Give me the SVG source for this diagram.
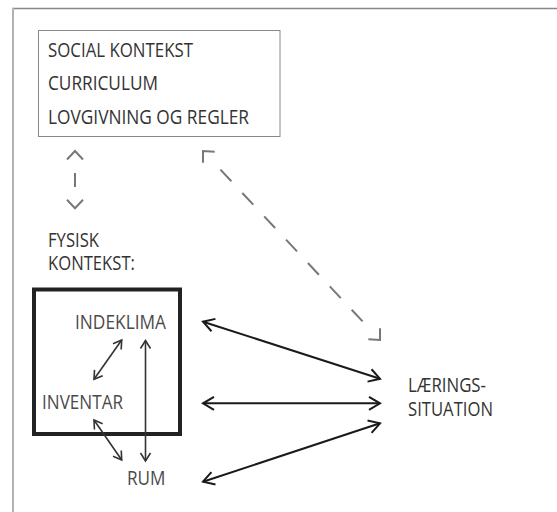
<svg xmlns="http://www.w3.org/2000/svg" width="557" height="512" viewBox="0 0 557 512">
<defs>
<style>
text{font-family:"Open Sans","Noto Sans","Liberation Sans",sans-serif;font-size:19.5px;fill:#333}
.lt{fill:#4a4a4a}
.dash{fill:none;stroke:#777;stroke-width:2}
.solid{fill:none;stroke:#1a1a1a;stroke-width:2}
.inner{fill:none;stroke:#333;stroke-width:1.6}
</style>
<marker id="mg" markerUnits="userSpaceOnUse" markerWidth="24" markerHeight="24" refX="0" refY="0" viewBox="-12 -12 24 24" orient="auto-start-reverse" overflow="visible">
<path d="M-8.5 -8 L0 0 L-8.5 8" fill="none" stroke="#777" stroke-width="2"/>
</marker>
<marker id="mb" markerUnits="userSpaceOnUse" markerWidth="24" markerHeight="24" refX="0" refY="0" viewBox="-12 -12 24 24" orient="auto-start-reverse" overflow="visible">
<path d="M-11 -6.5 L0 0 L-11 6.5" fill="none" stroke="#1a1a1a" stroke-width="2"/>
</marker>
<marker id="mi" markerUnits="userSpaceOnUse" markerWidth="24" markerHeight="24" refX="0" refY="0" viewBox="-12 -12 24 24" orient="auto-start-reverse" overflow="visible">
<path d="M-8 -5 L0 0 L-8 5" fill="none" stroke="#333" stroke-width="1.6"/>
</marker>
</defs>
<rect width="557" height="512" fill="#fff"/>
<g id="frame">
<line x1="12" y1="8.5" x2="557" y2="8.5" stroke="#888" stroke-width="1.5"/>
<line x1="13" y1="8" x2="13" y2="512" stroke="#b3b3b3" stroke-width="2"/>
</g>
<g id="context-box">
<rect x="38.5" y="30.5" width="241.5" height="106" fill="none" stroke="#888" stroke-width="1"/>
<text x="48" y="57" textLength="145" lengthAdjust="spacingAndGlyphs">SOCIAL KONTEKST</text>
<text x="48" y="90" textLength="110" lengthAdjust="spacingAndGlyphs">CURRICULUM</text>
<text x="48" y="124" textLength="201" lengthAdjust="spacingAndGlyphs">LOVGIVNING OG REGLER</text>
</g>
<g id="fysisk-label">
<text x="48" y="247" textLength="51" lengthAdjust="spacingAndGlyphs">FYSISK</text>
<text x="48" y="270" textLength="87" lengthAdjust="spacingAndGlyphs">KONTEKST:</text>
</g>
<g id="fysisk-box">
<rect x="34" y="289.5" width="146" height="144.5" fill="none" stroke="#222" stroke-width="4"/>
</g>
<g id="indeklima"><text class="lt" x="75" y="329" textLength="91" lengthAdjust="spacingAndGlyphs">INDEKLIMA</text></g>
<g id="inventar"><text class="lt" x="42" y="409" textLength="81" lengthAdjust="spacingAndGlyphs">INVENTAR</text></g>
<g id="rum"><text class="lt" x="127" y="485" textLength="38.5" lengthAdjust="spacingAndGlyphs">RUM</text></g>
<g id="laeringssituation">
<text x="408" y="392" textLength="78" lengthAdjust="spacingAndGlyphs">LÆRINGS-</text>
<text x="408" y="416" textLength="85" lengthAdjust="spacingAndGlyphs">SITUATION</text>
</g>
<g id="connectors">
<line class="dash" x1="75" y1="151" x2="75" y2="208.3" stroke-dasharray="0 22 14 100" marker-start="url(#mg)" marker-end="url(#mg)"/>
<line class="dash" x1="203" y1="151" x2="380" y2="340" stroke-dasharray="0 25.5 16 16 16 16 16 16 16 16 16 16 16 16 16 100" marker-start="url(#mg)" marker-end="url(#mg)"/>
<line class="solid" x1="203" y1="321.7" x2="380" y2="378.8" marker-start="url(#mb)" marker-end="url(#mb)"/>
<line class="solid" x1="203" y1="403.3" x2="380" y2="403.3" marker-start="url(#mb)" marker-end="url(#mb)"/>
<line class="solid" x1="203" y1="481.7" x2="380" y2="423.3" marker-start="url(#mb)" marker-end="url(#mb)"/>
<line class="inner" x1="121.7" y1="340" x2="94" y2="379.3" marker-start="url(#mi)" marker-end="url(#mi)"/>
<line class="inner" x1="94" y1="420" x2="121.7" y2="460" marker-start="url(#mi)" marker-end="url(#mi)"/>
<line class="inner" x1="145.5" y1="340.5" x2="145.5" y2="461" marker-start="url(#mi)" marker-end="url(#mi)"/>
</g>
</svg>
